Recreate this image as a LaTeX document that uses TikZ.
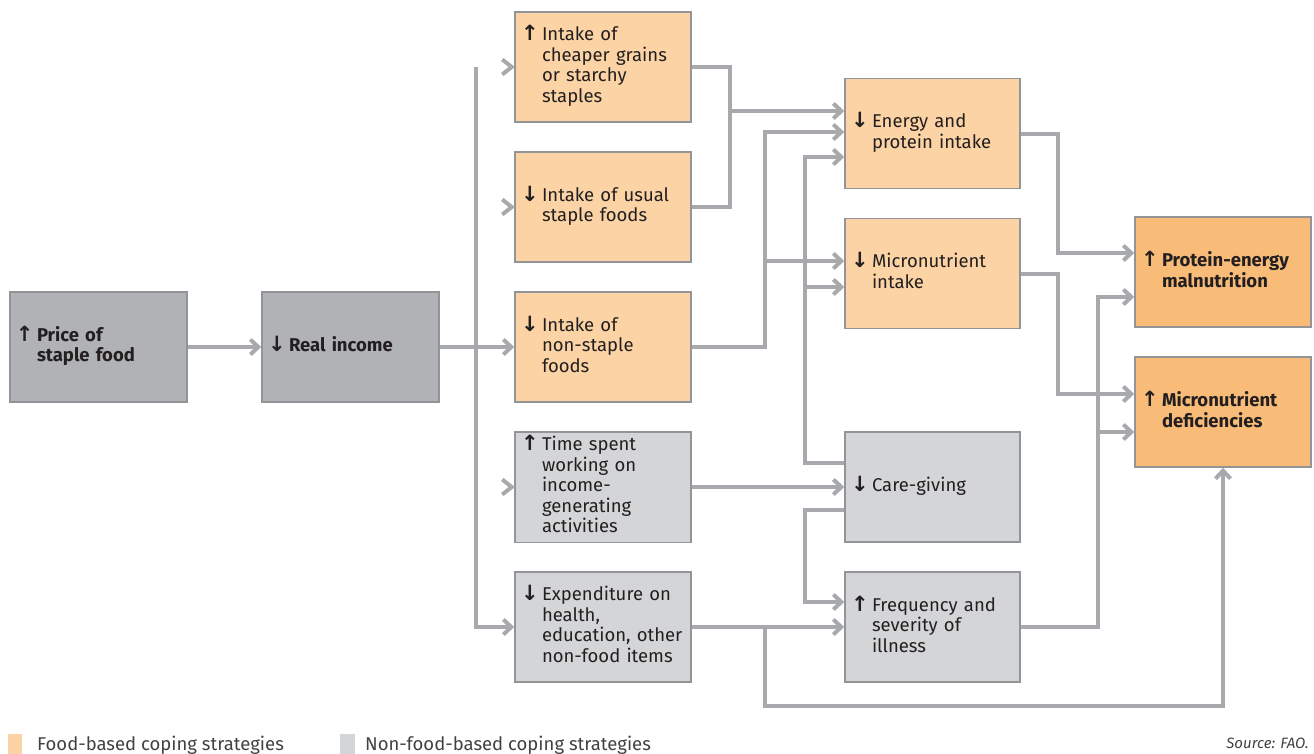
\documentclass[tikz,border=0pt]{standalone}
\usepackage{fontspec}
\setmainfont{Fira Sans}
\newfontfamily\arrowfont{DejaVu Sans}
\usetikzlibrary{arrows.meta,calc}

\definecolor{foodfill}{HTML}{FBD3A4}
\definecolor{nonfoodfill}{HTML}{D4D5D7}
\definecolor{keyfill}{HTML}{B0B2B5}
\definecolor{outfill}{HTML}{F8BC78}
\definecolor{boxline}{HTML}{929497}
\definecolor{flowline}{HTML}{A8A9AD}
\definecolor{txt}{HTML}{231F20}

\newcommand{\arrup}{{\arrowfont\bfseries\fontsize{21}{20}\selectfont ↑}}
\newcommand{\arrdown}{{\arrowfont\bfseries\fontsize{21}{20}\selectfont ↓}}
\newcommand{\boxlabel}[2]{\makebox[21pt][l]{#1}\begin{tabular}[t]{@{}l@{}}#2\end{tabular}}
\newcommand{\chevron}[1]{\draw[link] ($(#1.west)+(-12,-7.5)$) -- ($(#1.west)+(-2.5,0)$) -- ($(#1.west)+(-12,7.5)$);}

\tikzset{
  cell/.style={draw=boxline, line width=1.5pt, minimum height=110pt, text width=164pt,
    inner xsep=6pt, align=left, text=txt, font=\fontsize{18.5}{20.5}\selectfont},
  food/.style={cell, fill=foodfill},
  nonfood/.style={cell, fill=nonfoodfill},
  keybox/.style={cell, fill=keyfill, font=\fontsize{18.5}{20.5}\selectfont\bfseries},
  outcome/.style={cell, fill=outfill, font=\fontsize{18.5}{20.5}\selectfont\bfseries},
  link/.style={draw=flowline, line width=4pt, miter limit=10},
  flow/.style={link, -{Straight Barb[length=8pt,width=15pt]}},
}

\begin{document}
\begin{tikzpicture}[x=1pt, y=-1pt]

	\useasboundingbox (0,0) rectangle (1314,753);

	% price and income
	\node[keybox, text width=165pt] (price) at (98.5,347) {\boxlabel{\arrup}{Price of\\staple food}};
	\node[keybox, text width=165pt] (income) at (350.5,347) {\boxlabel{\arrdown}{Real income}};

	% coping strategies
	\node[food] (cheaper) at (603,67) {\boxlabel{\arrup}{Intake of\\cheaper grains\\or starchy\\staples}};
	\node[food] (usual) at (603,207) {\boxlabel{\arrdown}{Intake of usual\\staple foods}};
	\node[food] (nonstaple) at (603,347) {\boxlabel{\arrdown}{Intake of\\non-staple\\foods}};
	\node[nonfood] (time) at (603,487) {\boxlabel{\arrup}{Time spent\\working on\\income-\\generating\\activities}};
	\node[nonfood] (expend) at (603,627) {\boxlabel{\arrdown}{Expenditure on\\health,\\education, other\\non-food items}};

	% intermediate effects
	\node[food, text width=163pt] (energy) at (932.5,133.5) {\boxlabel{\arrdown}{Energy and\\protein intake}};
	\node[food, text width=163pt] (micro) at (932.5,273.5) {\boxlabel{\arrdown}{Micronutrient\\intake}};
	\node[nonfood, text width=163pt] (care) at (932.5,487) {\boxlabel{\arrdown}{Care-giving}};
	\node[nonfood, text width=163pt] (illness) at (932.5,627) {\boxlabel{\arrup}{Frequency and\\severity of\\illness}};

	% outcomes
	\node[outcome] (pem) at (1223,272) {\boxlabel{\arrup}{Protein-energy\\malnutrition}};
	\node[outcome] (mnd) at (1223,412) {\boxlabel{\arrup}{Micronutrient\\deficiencies}};

	% junctions
	\coordinate (bus) at (476,67);
	\coordinate (jgrain) at (730,111);
	\coordinate (jstaple) at (765,261);
	\coordinate (jcare) at (805,287);
	\coordinate (jexp) at (765,627);
	\coordinate (jbottom) at (1223,706);
	\coordinate (jill) at (1098,432);

	% income to strategies
	\draw[flow] (price) -- (income);
	\draw[flow] (income) -- (nonstaple);
	\draw[flow] (bus) |- (expend.west);
	\chevron{cheaper}
	\chevron{usual}
	\chevron{time}

	% strategies to effects
	\draw[link] (cheaper.east) -| (jgrain);
	\draw[link] (usual.east) -| (jgrain);
	\draw[flow] (jgrain) -- (energy.west |- jgrain);
	\draw[flow] (nonstaple.east) -| (765,132) -- ($(energy.west)+(0,-1.5)$);
	\draw[flow] (jstaple) -- (micro.west |- jstaple);
	\draw[flow] ($(care.west)+(0,-24)$) -| (805,157) -- ($(energy.west)+(0,23.5)$);
	\draw[flow] (jcare) -- (micro.west |- jcare);
	\draw[flow] (time) -- (care);
	\draw[flow] ($(care.west)+(0,23)$) -| (805,602) -- ($(illness.west)+(0,-25)$);
	\draw[flow] (expend) -- (illness);

	% effects to outcomes
	\draw[flow] (energy.east) -| (1058,253) -- ($(pem.west)+(0,-19)$);
	\draw[flow] (micro.east) -| (1058,394) -- ($(mnd.west)+(0,-18)$);
	\draw[flow] (illness.east) -| (1098,297) -- ($(pem.west)+(0,25)$);
	\draw[flow] (jill) -- (mnd.west |- jill);
	\draw[flow] (jexp) |- (jbottom) -- (mnd.south);

	% legend
	\fill[foodfill] (8,734) rectangle (22,760);
	\node[anchor=base west, inner sep=0pt, text=txt!85, font=\fontsize{18.5}{20}\selectfont] (legfood) at (37,750) {Food-based coping strategies};
	\fill[nonfoodfill] (340,734) rectangle (355,760);
	\node[anchor=base west, inner sep=0pt, text=txt!85, font=\fontsize{18.5}{20}\selectfont] (legnonfood) at (365,750) {Non-food-based coping strategies};
	\node[anchor=base east, inner sep=0pt, text=txt!85, font=\fontsize{15}{16}\selectfont\itshape] (source) at (1309,748) {Source: FAO.};

\end{tikzpicture}
\end{document}
